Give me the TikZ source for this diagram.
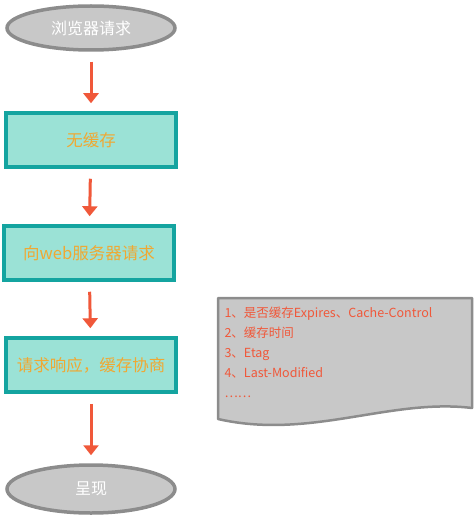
\documentclass[tikz,border=0pt]{standalone}
\usepackage{fontspec}
\newfontfamily\cjk{Noto Sans CJK SC}
\usetikzlibrary{shapes.geometric, arrows.meta, positioning}
\definecolor{ovalgray}{RGB}{200, 200, 200}
\definecolor{ovalline}{RGB}{140, 140, 140}
\definecolor{boxteal}{RGB}{155, 226, 214}
\definecolor{boxline}{RGB}{20, 164, 160}
\definecolor{textorange}{RGB}{240, 168, 50}
\definecolor{arrowred}{RGB}{240, 88, 58}

\tikzset{
  oval/.style={ellipse, fill=ovalgray, draw=ovalline, line width=3.5pt,
    minimum width=168pt, minimum height=44pt, text=white, font=\cjk\fontsize{16}{18}\selectfont},
  procbox/.style={rectangle, fill=boxteal, draw=boxline, line width=3.5pt,
    minimum width=170pt, minimum height=54pt, text=textorange, font=\cjk\fontsize{16.5}{19}\selectfont},
  flow/.style={arrowred, line width=3pt, -{Triangle[width=15pt,length=10pt]},
    shorten <=10pt, shorten >=8pt}
}

\begin{document}
\begin{tikzpicture}[x=1pt, y=-1pt]
  \useasboundingbox (0,0) rectangle (474,516);

  % 流程节点
  \node[oval] (req) at (91,28) {浏览器请求};
  \node[procbox] (nocache) at (91,140) {无缓存};
  \node[procbox] (server) at (89,253) {向web服务器请求};
  \node[procbox] (resp) at (91,365) {请求响应，缓存协商};
  \node[oval, minimum height=48pt] (show) at (91,489) {呈现};

  % 箭头
  \draw[flow] (req) -- (nocache);
  \draw[flow] (nocache) -- (server);
  \draw[flow] (server) -- (resp);
  \draw[flow] (resp) -- (show);

  % 缓存协商说明
  \fill[ovalgray, draw=ovalline, line width=2.5pt, line join=round]
    (218,298) -- (472,298) -- (472,408)
    .. controls (390,398) and (310,440) .. (218,419) -- cycle;
  \node[anchor=north west, align=left, text=arrowred,
        font=\cjk\fontsize{12.5}{20}\selectfont] (notes) at (221,303)
    {1、是否缓存Expires、Cache-Control\\
     2、缓存时间\\
     3、Etag\\
     4、Last-Modified\\
     ……};
\end{tikzpicture}
\end{document}
